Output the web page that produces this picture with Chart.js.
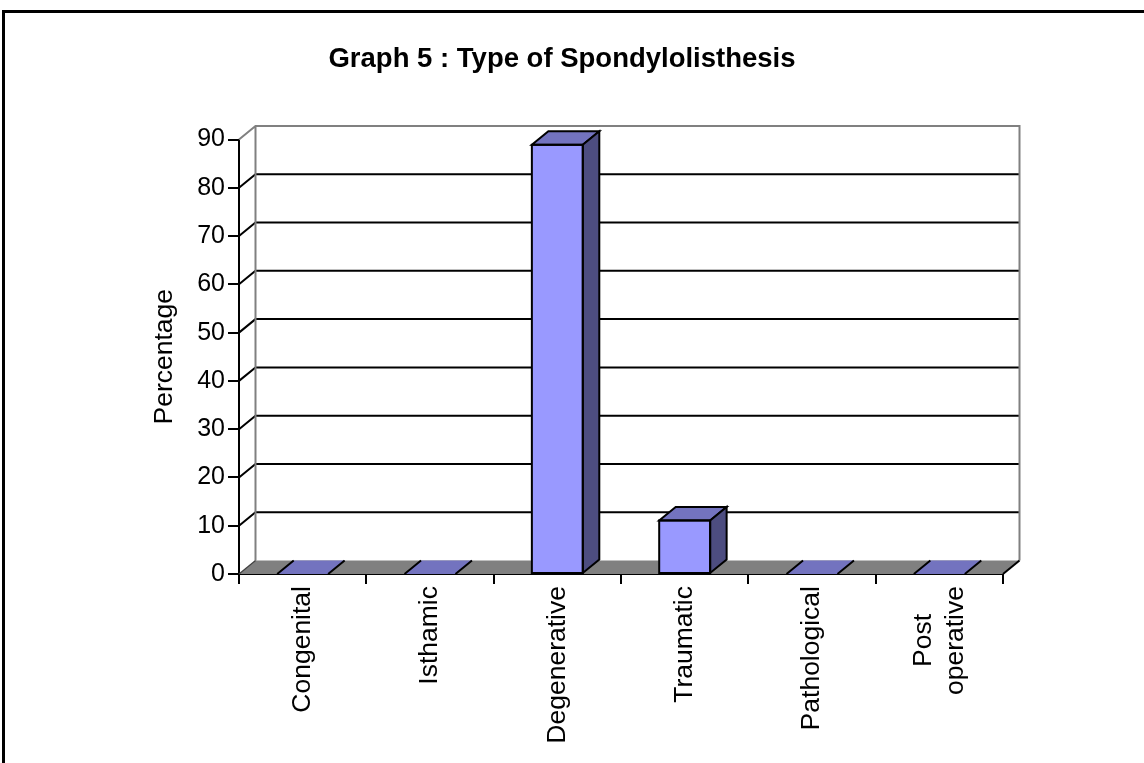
<!DOCTYPE html>
<html>
<head>
<meta charset="utf-8">
<title>Graph 5 : Type of Spondylolisthesis</title>
<script src="https://cdn.jsdelivr.net/npm/chart.js@4.4.0/dist/chart.umd.min.js"></script>
<style>
  html, body { margin: 0; padding: 0; background: #fff; }
  #wrap { width: 1144px; height: 763px; position: relative; }
</style>
</head>
<body>
<div id="wrap"><canvas id="chart"></canvas></div>
<script>
// Category names (multi-line names are given as arrays of lines)
const categories = ['Congenital', 'Isthamic', 'Degenerative', 'Traumatic', 'Pathological', ['Post', 'operative']];
// Share of cases per type, in percent
const percentages = [0, 0, 88.9, 11.1, 0, 0];
// Value axis tick labels
const yTicks = [0, 10, 20, 30, 40, 50, 60, 70, 80, 90];

const FONT = "'Liberation Sans', Arial, Helvetica, sans-serif";
const DEPTH_X = 16.5, DEPTH_Y = -13.5;       // oblique offset of the back plane
const FRONT = '#9999FF', TOP = '#7373BF', SIDE = '#4D4D80';
const FLOOR = '#808080', WALL_EDGE = '#808080';

// Back wall, floor and gridlines of the 3-D box
const box3d = {
  id: 'box3d',
  beforeDatasetsDraw(chart) {
    const { ctx, chartArea: a, scales: { y } } = chart;
    ctx.save();
    // floor
    ctx.fillStyle = FLOOR;
    ctx.beginPath();
    ctx.moveTo(a.left, a.bottom);
    ctx.lineTo(a.right, a.bottom);
    ctx.lineTo(a.right + DEPTH_X, a.bottom + DEPTH_Y);
    ctx.lineTo(a.left + DEPTH_X, a.bottom + DEPTH_Y);
    ctx.closePath();
    ctx.fill();
    // gridlines on the back wall with their diagonal leaders
    ctx.lineWidth = 2;
    ctx.strokeStyle = '#000';
    y.ticks.forEach(t => {
      if (t.value <= y.min || t.value >= y.max) return;
      const py = y.getPixelForValue(t.value);
      ctx.beginPath();
      ctx.moveTo(a.left, py);
      ctx.lineTo(a.left + DEPTH_X, py + DEPTH_Y);
      ctx.lineTo(a.right + DEPTH_X, py + DEPTH_Y);
      ctx.stroke();
    });
    // wall outline
    const ty = y.getPixelForValue(y.max);
    ctx.strokeStyle = WALL_EDGE;
    ctx.beginPath();
    ctx.moveTo(a.left, ty);
    ctx.lineTo(a.left + DEPTH_X, ty + DEPTH_Y);
    ctx.lineTo(a.right + DEPTH_X, ty + DEPTH_Y);
    ctx.lineTo(a.right + DEPTH_X, a.bottom + DEPTH_Y);
    ctx.moveTo(a.left + DEPTH_X, ty + DEPTH_Y);
    ctx.lineTo(a.left + DEPTH_X, a.bottom + DEPTH_Y);
    ctx.stroke();
    // floor edges
    ctx.strokeStyle = '#000';
    ctx.beginPath();
    ctx.moveTo(a.right, a.bottom);
    ctx.lineTo(a.right + DEPTH_X, a.bottom + DEPTH_Y);
    ctx.stroke();
    ctx.strokeStyle = '#404040';
    ctx.lineWidth = 1.2;
    ctx.beginPath();
    ctx.moveTo(a.left, a.bottom);
    ctx.lineTo(a.left + DEPTH_X, a.bottom + DEPTH_Y);
    ctx.stroke();
    ctx.restore();
  },
  afterDatasetsDraw(chart) {
    const { ctx } = chart;
    const meta = chart.getDatasetMeta(0);
    ctx.save();
    ctx.lineWidth = 2;
    ctx.strokeStyle = '#000';
    ctx.lineJoin = 'miter';
    meta.data.forEach(bar => {
      const { x, y, base, width } = bar.getProps(['x', 'y', 'base', 'width'], true);
      const x0 = x - width / 2, x1 = x + width / 2;
      if (Math.abs(base - y) < 0.5) {
        // empty category: only the footprint on the floor
        ctx.fillStyle = TOP;
        ctx.beginPath();
        ctx.moveTo(x0, base); ctx.lineTo(x1, base);
        ctx.lineTo(x1 + DEPTH_X, base + DEPTH_Y); ctx.lineTo(x0 + DEPTH_X, base + DEPTH_Y);
        ctx.closePath();
        ctx.fill();
        ctx.beginPath();
        ctx.moveTo(x0, base); ctx.lineTo(x0 + DEPTH_X, base + DEPTH_Y);
        ctx.moveTo(x1, base); ctx.lineTo(x1 + DEPTH_X, base + DEPTH_Y);
        ctx.stroke();
        return;
      }
      // top face
      ctx.fillStyle = TOP;
      ctx.beginPath();
      ctx.moveTo(x0, y); ctx.lineTo(x1, y);
      ctx.lineTo(x1 + DEPTH_X, y + DEPTH_Y); ctx.lineTo(x0 + DEPTH_X, y + DEPTH_Y);
      ctx.closePath();
      ctx.fill(); ctx.stroke();
      // right side face
      ctx.fillStyle = SIDE;
      ctx.beginPath();
      ctx.moveTo(x1, y); ctx.lineTo(x1 + DEPTH_X, y + DEPTH_Y);
      ctx.lineTo(x1 + DEPTH_X, base + DEPTH_Y); ctx.lineTo(x1, base);
      ctx.closePath();
      ctx.fill(); ctx.stroke();
      // front outline
      ctx.strokeRect(x0, y, width, base - y);
    });
    ctx.restore();
  },
  afterDraw(chart) {
    const { ctx, scales: { x } } = chart;
    ctx.save();
    // category names, rotated, lines centred on each other
    ctx.font = `26.5px ${FONT}`;
    ctx.fillStyle = '#000';
    ctx.textBaseline = 'middle';
    ctx.textAlign = 'right';
    const lineStep = 32;
    const topY = x.top + 12;
    categories.forEach((lab, i) => {
      const lines = Array.isArray(lab) ? lab : [lab];
      const px = x.getPixelForValue(i);
      const widths = lines.map(l => ctx.measureText(l).width);
      const maxW = Math.max(...widths);
      lines.forEach((l, j) => {
        const cx = px + (j - (lines.length - 1) / 2) * lineStep;
        const ey = topY + (maxW - widths[j]) / 2;
        ctx.save();
        ctx.translate(cx, ey);
        ctx.rotate(-Math.PI / 2);
        ctx.fillText(l, 0, 0);
        ctx.restore();
      });
    });
    // outer frame
    ctx.strokeStyle = '#000';
    ctx.lineWidth = 3;
    ctx.strokeRect(3.5, 11.5, 1200, 800);
    ctx.restore();
  }
};

new Chart(document.getElementById('chart'), {
  type: 'bar',
  data: {
    labels: categories,
    datasets: [{
      data: percentages,
      backgroundColor: FRONT,
      borderColor: '#000',
      borderWidth: 0,
      borderSkipped: false,
      categoryPercentage: 1,
      barPercentage: 0.4
    }]
  },
  options: {
    responsive: true,
    maintainAspectRatio: false,
    devicePixelRatio: 1,
    animation: false,
    layout: { padding: { left: 121, right: 141, top: 0, bottom: 0 } },
    plugins: {
      legend: { display: false },
      tooltip: { enabled: false },
      title: {
        display: true,
        text: 'Graph 5 : Type of Spondylolisthesis',
        color: '#000',
        font: { family: FONT, size: 27.5, weight: 'bold', lineHeight: 1.2 },
        padding: { top: 42.5, bottom: 64 }
      }
    },
    scales: {
      x: {
        type: 'category',
        offset: true,
        grid: { offset: true, drawOnChartArea: false, drawTicks: true, tickLength: 10, color: '#000', lineWidth: 2 },
        border: { display: true, color: '#000', width: 2 },
        ticks: { display: false },
        afterFit(s) { s.height = 189; }
      },
      y: {
        min: yTicks[0],
        max: yTicks[yTicks.length - 1],
        afterBuildTicks(s) { s.ticks = yTicks.map(v => ({ value: v })); },
        grid: { drawOnChartArea: false, drawTicks: true, tickLength: 11, color: '#000', lineWidth: 2 },
        border: { display: true, color: '#000', width: 2 },
        ticks: { color: '#000', font: { family: FONT, size: 25 }, padding: 3 },
        title: {
          display: true,
          text: 'Percentage',
          color: '#000',
          font: { family: FONT, size: 26.5, lineHeight: 1.2 },
          padding: { top: 28, bottom: 0 }
        },
        afterFit(s) { s.width = 118; }
      }
    }
  },
  plugins: [box3d]
});
</script>
</body>
</html>
